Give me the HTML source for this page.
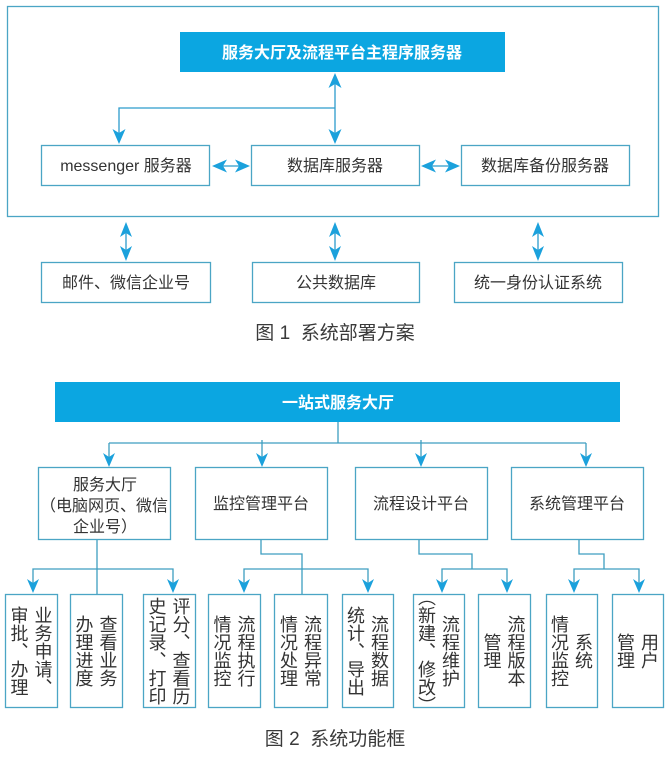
<!DOCTYPE html>
<html><head><meta charset="utf-8">
<style>
html,body{margin:0;padding:0;background:#fff;}
body{width:672px;height:762px;position:relative;overflow:hidden;font-family:"Liberation Sans","Noto Sans CJK SC",sans-serif;color:#333;}
svg{position:absolute;left:0;top:0;}
.t{position:absolute;white-space:nowrap;font-size:16px;line-height:20px;transform:translate(-50%,-50%);margin-top:2px;}
.w{color:#fff;font-weight:bold;}
.cap{font-size:19px;color:#3a3a3a;white-space:pre;line-height:24px;}
.v{position:absolute;top:594px;height:113px;display:flex;align-items:center;justify-content:center;}
.v div{writing-mode:vertical-rl;font-size:18px;line-height:24px;text-align:center;font-family:"Noto Sans CJK SC",sans-serif;color:#333;white-space:nowrap;}
</style></head>
<body>
<svg width="672" height="762" viewBox="0 0 672 762" xmlns="http://www.w3.org/2000/svg">
  <!-- Figure 1 -->
  <rect x="7.5" y="6.5" width="651" height="210" fill="none" stroke="#4ba5c5" stroke-width="1.3"/>
  <rect x="180" y="32" width="325" height="40" fill="#0ba6e1"/>
  <g fill="#fff" stroke="#4ba5c5" stroke-width="1.3">
    <rect x="41.5" y="145.5" width="168" height="40"/>
    <rect x="251.5" y="145.5" width="168" height="40"/>
    <rect x="461.5" y="145.5" width="168" height="40"/>
    <rect x="41.5" y="262.5" width="169" height="40"/>
    <rect x="252.5" y="262.5" width="167" height="40"/>
    <rect x="454.5" y="262.5" width="168" height="40"/>
  </g>
  <g stroke="#2c9ccc" stroke-width="1.3" fill="none">
    <line x1="335" y1="76" x2="335" y2="141"/>
    <polyline points="335,108 119,108 119,141"/>
    <line x1="215" y1="166" x2="247" y2="166"/>
    <line x1="424" y1="166" x2="457" y2="166"/>
    <line x1="126" y1="225" x2="126" y2="258"/>
    <line x1="335" y1="225" x2="335" y2="258"/>
    <line x1="538" y1="225" x2="538" y2="258"/>
  </g>
  <g fill="#1ba1dc">
    <path d="M335 73 L328.5 88 L335 84 L341.5 88Z"/>
    <path d="M335 144 L328.5 129 L335 133 L341.5 129Z"/>
    <path d="M119 144 L112.5 129 L119 133 L125.5 129Z"/>
    <path d="M212 166 L227 159.5 L223 166 L227 172.5Z"/>
    <path d="M250 166 L235 159.5 L239 166 L235 172.5Z"/>
    <path d="M421 166 L436 159.5 L432 166 L436 172.5Z"/>
    <path d="M460 166 L445 159.5 L449 166 L445 172.5Z"/>
    <path d="M126 222 L120 237 L126 233 L132 237Z"/>
    <path d="M126 261 L120 246 L126 250 L132 246Z"/>
    <path d="M335 222 L329 237 L335 233 L341 237Z"/>
    <path d="M335 261 L329 246 L335 250 L341 246Z"/>
    <path d="M538 222 L532 237 L538 233 L544 237Z"/>
    <path d="M538 261 L532 246 L538 250 L544 246Z"/>
  </g>

  <!-- Figure 2 -->
  <rect x="55" y="382" width="565" height="40" fill="#0ba6e1"/>
  <g fill="#fff" stroke="#4ba5c5" stroke-width="1.3">
    <rect x="38.5" y="467.5" width="132" height="72"/>
    <rect x="195.5" y="467.5" width="132" height="72"/>
    <rect x="355.5" y="467.5" width="132" height="72"/>
    <rect x="511.5" y="467.5" width="132" height="72"/>
    <rect x="5.5" y="594.5" width="52" height="113"/>
    <rect x="70.5" y="594.5" width="52" height="113"/>
    <rect x="143.5" y="594.5" width="52" height="113"/>
    <rect x="208.5" y="594.5" width="52" height="113"/>
    <rect x="274.5" y="594.5" width="53" height="113"/>
    <rect x="342.5" y="594.5" width="51" height="113"/>
    <rect x="413.5" y="594.5" width="51" height="113"/>
    <rect x="478.5" y="594.5" width="52" height="113"/>
    <rect x="546.5" y="594.5" width="51" height="113"/>
    <rect x="612.5" y="594.5" width="51" height="113"/>
  </g>
  <g stroke="#3d9ec0" stroke-width="1.3" fill="none">
    <line x1="338" y1="422" x2="338" y2="443"/>
    <line x1="109" y1="443" x2="586" y2="443"/>
    <line x1="109" y1="443" x2="109" y2="460"/>
    <line x1="262" y1="440" x2="262" y2="460"/>
    <line x1="421" y1="440" x2="421" y2="460"/>
    <line x1="586" y1="443" x2="586" y2="460"/>
    <line x1="97" y1="540" x2="97" y2="594"/>
    <polyline points="33,586 33,569 173,569 173,586"/>
    <polyline points="261,540 261,554 302,554 302,594"/>
    <polyline points="244,586 244,569 368,569 368,586"/>
    <polyline points="419,540 419,554 472,554 472,569"/>
    <polyline points="442,586 442,569 507,569 507,586"/>
    <polyline points="579,540 579,554 604,554 604,569"/>
    <polyline points="574,586 574,569 639,569 639,586"/>
  </g>
  <g fill="#1ba1dc">
    <path d="M109 467 L103 453 L109 457 L115 453Z"/>
    <path d="M262 467 L256 453 L262 457 L268 453Z"/>
    <path d="M421 467 L415 453 L421 457 L427 453Z"/>
    <path d="M586 467 L580 453 L586 457 L592 453Z"/>
    <path d="M33 593 L27 579 L33 583 L39 579Z"/>
    <path d="M173 593 L167 579 L173 583 L179 579Z"/>
    <path d="M244 593 L238 579 L244 583 L250 579Z"/>
    <path d="M368 593 L362 579 L368 583 L374 579Z"/>
    <path d="M442 593 L436 579 L442 583 L448 579Z"/>
    <path d="M507 593 L501 579 L507 583 L513 579Z"/>
    <path d="M574 593 L568 579 L574 583 L580 579Z"/>
    <path d="M639 593 L633 579 L639 583 L645 579Z"/>
  </g>
</svg>

<!-- Figure 1 text -->
<div class="t w" style="left:342px;top:52px;">服务大厅及流程平台主程序服务器</div>
<div class="t" style="left:126px;top:165px;">messenger 服务器</div>
<div class="t" style="left:335px;top:165px;">数据库服务器</div>
<div class="t" style="left:545px;top:165px;">数据库备份服务器</div>
<div class="t" style="left:126px;top:282px;">邮件、微信企业号</div>
<div class="t" style="left:336px;top:282px;">公共数据库</div>
<div class="t" style="left:538px;top:282px;">统一身份认证系统</div>
<div class="t cap" style="left:335px;top:332px;">图 1  系统部署方案</div>

<!-- Figure 2 text -->
<div class="t w" style="left:338px;top:402px;">一站式服务大厅</div>
<div class="t" style="left:105px;top:484px;">服务大厅</div>
<div class="t" style="left:104px;top:505px;">（电脑网页、微信</div>
<div class="t" style="left:105px;top:526px;">企业号）</div>
<div class="t" style="left:261px;top:503px;">监控管理平台</div>
<div class="t" style="left:421px;top:503px;">流程设计平台</div>
<div class="t" style="left:577px;top:503px;">系统管理平台</div>

<div class="v" style="left:5px;width:53px;"><div>业务申请、<br>审批、办理</div></div>
<div class="v" style="left:70px;width:53px;"><div>查看业务<br>办理进度</div></div>
<div class="v" style="left:143px;width:53px;"><div>评分、查看历<br>史记录、打印</div></div>
<div class="v" style="left:208px;width:53px;"><div>流程执行<br>情况监控</div></div>
<div class="v" style="left:274px;width:54px;"><div>流程异常<br>情况处理</div></div>
<div class="v" style="left:342px;width:52px;"><div>流程数据<br>统计、导出</div></div>
<div class="v" style="left:413px;width:52px;"><div>流程维护<br>（新建、修改）</div></div>
<div class="v" style="left:478px;width:53px;"><div>流程版本<br>管理</div></div>
<div class="v" style="left:546px;width:52px;"><div>系统<br>情况监控</div></div>
<div class="v" style="left:612px;width:52px;"><div>用户<br>管理</div></div>

<div class="t cap" style="left:335px;top:738px;">图 2  系统功能框</div>
</body></html>
